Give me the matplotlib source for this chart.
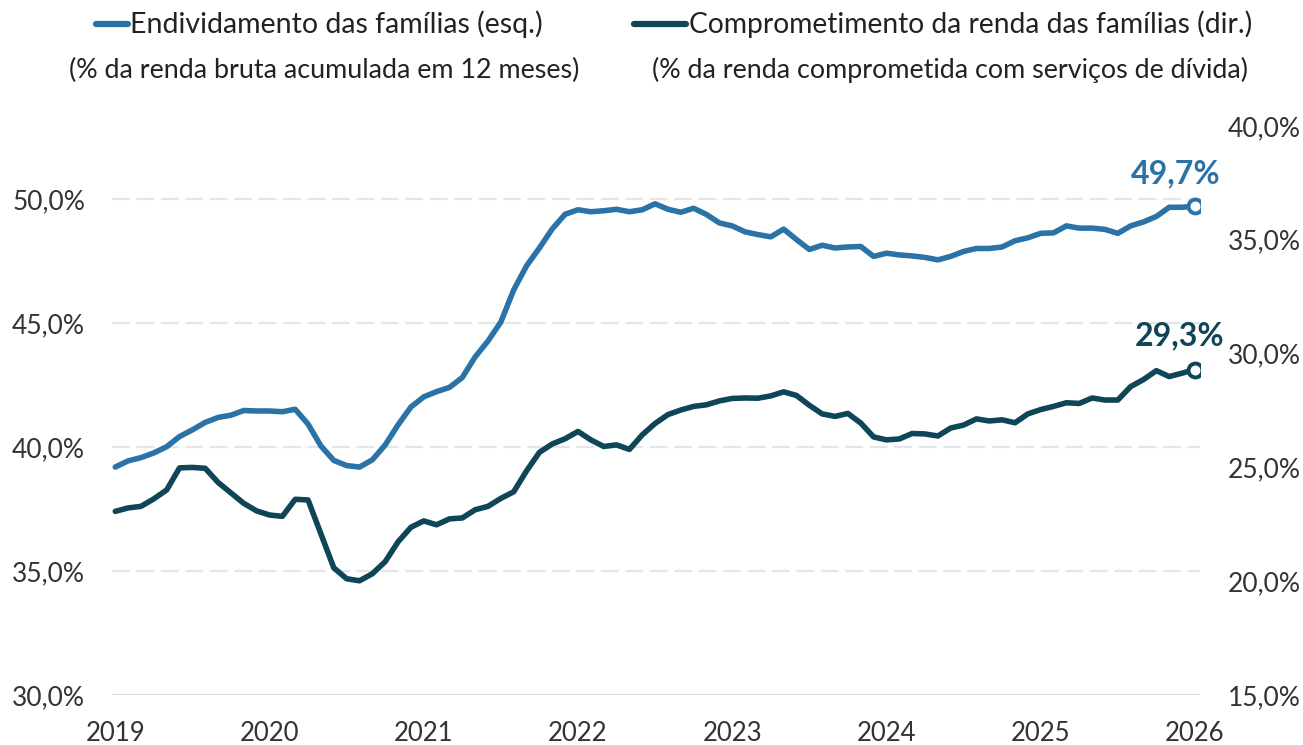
import matplotlib
matplotlib.use("Agg")
import matplotlib.pyplot as plt
from matplotlib.lines import Line2D

plt.rcParams['font.family'] = ['Lato', 'DejaVu Sans']

# monthly series, Jan 2019 .. Jan 2026
endividamento = [
    39.19, 39.44, 39.57, 39.76, 40.01, 40.42, 40.69, 40.99, 41.19, 41.28, 41.47, 41.45,
    41.45, 41.42, 41.52, 40.92, 40.04, 39.46, 39.25, 39.19, 39.48, 40.08, 40.89, 41.61,
    42.02, 42.23, 42.40, 42.80, 43.63, 44.27, 45.04, 46.33, 47.30, 48.02, 48.79, 49.38,
    49.56, 49.48, 49.52, 49.58, 49.48, 49.56, 49.80, 49.58, 49.46, 49.62, 49.37, 49.03,
    48.91, 48.67, 48.56, 48.47, 48.78, 48.36, 47.96, 48.13, 48.02, 48.06, 48.08, 47.68,
    47.81, 47.74, 47.70, 47.64, 47.54, 47.68, 47.88, 48.00, 48.00, 48.06, 48.31, 48.43,
    48.61, 48.63, 48.91, 48.82, 48.82, 48.77, 48.61, 48.91, 49.07, 49.29, 49.66, 49.66,
    49.70,
]
comprometimento = [
    23.07, 23.22, 23.29, 23.62, 24.01, 24.98, 25.00, 24.96, 24.34, 23.88, 23.42, 23.09,
    22.91, 22.85, 23.60, 23.57, 22.08, 20.59, 20.11, 20.02, 20.33, 20.86, 21.73, 22.37,
    22.65, 22.48, 22.74, 22.78, 23.14, 23.29, 23.64, 23.93, 24.85, 25.66, 26.03, 26.26,
    26.58, 26.21, 25.92, 25.99, 25.79, 26.43, 26.93, 27.32, 27.52, 27.68, 27.75, 27.92,
    28.03, 28.05, 28.04, 28.14, 28.32, 28.16, 27.73, 27.35, 27.24, 27.37, 26.95, 26.34,
    26.21, 26.25, 26.49, 26.47, 26.38, 26.73, 26.86, 27.13, 27.04, 27.09, 26.96, 27.35,
    27.54, 27.68, 27.84, 27.81, 28.05, 27.96, 27.96, 28.55, 28.86, 29.25, 28.99, 29.14,
    29.30,
]
anos = ['2019', '2020', '2021', '2022', '2023', '2024', '2025', '2026']
left_ticks = [30, 35, 40, 45, 50]
right_ticks = [15, 20, 25, 30, 35, 40]

azul = '#2b73a6'
escuro = '#0e4557'
txt = '#333333'

def pct(v):
    return ('%.1f%%' % v).replace('.', ',')

meses = list(range(len(endividamento)))

fig = plt.figure(figsize=(13.03, 7.45), dpi=100)
ax = fig.add_axes([0.086, 0.067, 0.835, 0.764])
ax2 = ax.twinx()

for y in left_ticks[1:]:
    ax.axhline(y, color='#e3e5ea', lw=1.6, dashes=(8, 3), zorder=0)
ax.axhline(30, color='#dcdcdc', lw=1.6, zorder=0)

ax.plot(meses, endividamento, color=azul, lw=4, solid_capstyle='round', solid_joinstyle='round')
ax2.plot(meses, comprometimento, color=escuro, lw=4, solid_capstyle='round', solid_joinstyle='round')
ax.plot(meses[-1], endividamento[-1], 'o', ms=10, mfc='white', mec=azul, mew=2.8)
ax2.plot(meses[-1], comprometimento[-1], 'o', ms=10, mfc='white', mec=escuro, mew=2.8)

ax.annotate(pct(endividamento[-1]), (meses[-1], endividamento[-1]), xytext=(-14, 13),
            textcoords='offset points', ha='center', va='bottom', color=azul,
            fontsize=23, fontweight='bold')
ax2.annotate(pct(comprometimento[-1]), (meses[-1], comprometimento[-1]), xytext=(-11, 14),
             textcoords='offset points', ha='center', va='bottom', color=escuro,
             fontsize=23, fontweight='bold')

ax.set_xlim(-0.25, 84.4)
ax.set_ylim(30, 52.94)
ax2.set_ylim(15, 39.96)

ax.set_xticks(range(0, 85, 12))
ax.set_xticklabels(anos)
ax.set_yticks(left_ticks)
ax.set_yticklabels([pct(v) for v in left_ticks])
ax2.set_yticks(right_ticks)
ax2.set_yticklabels([pct(v) for v in right_ticks])

ax.tick_params(axis='x', length=0, pad=19, labelsize=18.5, labelcolor=txt)
ax.tick_params(axis='y', length=0, pad=19.5, labelsize=19, labelcolor=txt)
ax2.tick_params(axis='y', length=0, pad=20, labelsize=19, labelcolor=txt)

for a in (ax, ax2):
    for s in a.spines.values():
        s.set_visible(False)

# legend at the top
fig.add_artist(Line2D([96 / 1303, 128 / 1303], [1 - 24 / 745] * 2, color=azul, lw=4.5,
                      solid_capstyle='round'))
fig.add_artist(Line2D([634 / 1303, 686 / 1303], [1 - 24 / 745] * 2, color=escuro, lw=4.5,
                      solid_capstyle='round'))
fig.text(130 / 1303, 1 - 24 / 745, 'Endividamento das famílias (esq.)', ha='left', va='center',
         fontsize=20.5, color='#222222')
fig.text(689 / 1303, 1 - 24 / 745, 'Comprometimento da renda das famílias (dir.)', ha='left',
         va='center', fontsize=20.3, color='#222222')
fig.text(324 / 1303, 1 - 70 / 745, '(% da renda bruta acumulada em 12 meses)', ha='center',
         va='center', fontsize=19.4, color='#222222')
fig.text(950 / 1303, 1 - 70 / 745, '(% da renda comprometida com serviços de dívida)',
         ha='center', va='center', fontsize=19.4, color='#222222')

fig.savefig('out.png', dpi=100, facecolor='white')
